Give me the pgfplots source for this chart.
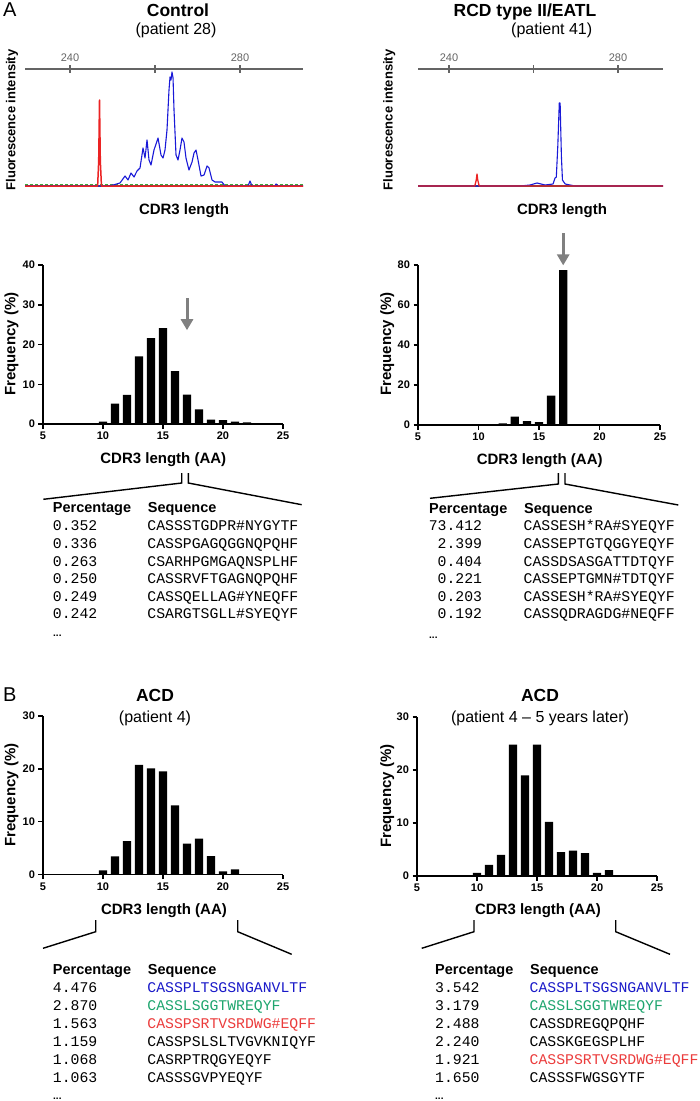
\documentclass[border=0pt]{standalone}
\usepackage{fontspec}
\setmainfont{Liberation Sans}
\newfontfamily\mono{Liberation Mono}
\usepackage{pgfplots}
\pgfplotsset{compat=1.18}
\usetikzlibrary{arrows.meta}
\definecolor{trblue}{RGB}{25,25,215}
\definecolor{trred}{RGB}{235,35,35}
\definecolor{trgreen}{RGB}{60,170,60}
\definecolor{seqblue}{RGB}{25,25,200}
\definecolor{seqgreen}{RGB}{30,165,110}
\definecolor{seqred}{RGB}{235,60,60}
\definecolor{axgray}{RGB}{100,100,100}
\definecolor{arrgray}{RGB}{128,128,128}
\newcommand\tf{\mono\fontsize{14.8}{17}\selectfont}
\newcommand\hf{\bfseries\fontsize{14.5}{17}\selectfont}
\newcommand\lf{\bfseries\fontsize{15}{18}\selectfont}
\pgfplotsset{
 barax/.style={anchor=south west, scale only axis, axis lines=left,
   axis line style={line width=1.8pt,-}, enlargelimits=false,
   xmin=5, xmax=25, xtick={5,10,...,25}, tick align=outside,
   major tick length=4.5pt, tick style={line width=1.5pt,black},
   ticklabel style={font=\bfseries\fontsize{11}{13}\selectfont},
   /pgf/number format/assume math mode=true,
   ybar, bar width=8.3pt, bar shift=0pt, clip=false, ymin=0},
 elax/.style={anchor=south west, scale only axis, axis x line=top, axis y line=none,
   enlargelimits=false, ymin=-4, ymax=117, height=121pt,
   xtick={240,260,280}, xticklabels={240,,280}, xtick align=center,
   major tick length=8pt, axis line style={line width=1.3pt,axgray,-},
   tick style={line width=1.2pt,axgray},
   ticklabel style={font=\fontsize{11}{13}\selectfont, text=axgray},
   /pgf/number format/assume math mode=true, clip=false}
}
\begin{document}
\begin{tikzpicture}
\useasboundingbox (0pt,0pt) rectangle (700pt,-1101pt);

% ---------- Electropherogram: Control ----------
\begin{axis}[elax, at={(25pt,-190pt)}, width=278pt, xmin=229.41, xmax=294.82]
\addplot[draw=black!65, line width=2.2pt] coordinates {(229.41,0)(294.82,0)};
\addplot[trgreen, line width=0.8pt, densely dashed] coordinates {(229.41,1.5)(294.82,1.5)};
\addplot[trblue, line width=1.1pt, line join=round] coordinates {
(229.41,0)(248.94,0)(250.12,1)(251.76,3)(252.94,10)(253.65,6)(254.35,13)(255.06,9)
(255.76,15)(256.47,18)(257.18,38)(257.65,28)(258.12,46)(258.59,26)(259.06,21)(259.76,36)
(260.71,48)(261.41,31)(261.88,28)(262.35,36)(262.82,56)(263.29,96)(263.53,109)(263.76,106)
(264.00,114)(264.24,108)(264.47,76)(264.94,31)(265.41,26)(265.88,36)(266.35,48)(266.82,44)
(267.29,28)(267.99,16)(268.71,24)(269.18,33)(269.65,36)(270.12,26)(270.82,10)(271.53,11)
(272.24,20)(272.71,18)(273.41,6)(274.12,4)(275.76,4)(276.47,0)(281.88,0)(282.35,5)
(282.82,0)(288.24,0)(288.47,2)(288.94,0)(294.82,0)};
\addplot[trred, line width=1.5pt, line join=round] coordinates {
(229.41,0)(246.5,0)(246.75,25)(246.94,86)(247.13,25)(247.4,0)(294.82,0)};
\end{axis}

% ---------- Electropherogram: RCD ----------
\begin{axis}[elax, at={(418pt,-190pt)}, width=245pt, xmin=232.66, xmax=290.65]
\addplot[draw=black!70, line width=1.6pt] coordinates {(232.66,0)(290.65,0)};
\addplot[trblue, line width=1.1pt, line join=round] coordinates {
(232.66,0)(256.80,0)(259.17,1)(260.83,3)(262.72,1)(264.62,2)(265.09,8)(265.4,9)
(265.75,40)(266.1,83)(266.3,83)(266.6,30)(266.85,6)(267.5,2)(269.82,0)(290.65,0)};
\addplot[trred, line width=1.3pt, line join=round] coordinates {
(232.66,0)(246.1,0)(246.45,6)(246.63,12)(246.8,6)(247.15,0)(290.65,0)};
\end{axis}

% ---------- Bars A left ----------
\begin{axis}[barax, at={(43pt,-424pt)}, width=240pt, height=159pt, ymax=40, ytick={0,10,20,30,40}]
\addplot[fill=black, draw=none] coordinates {(10,0.6)(11,5.1)(12,7.3)(13,17.0)(14,21.6)(15,24.1)(16,13.3)(17,7.4)(18,3.7)(19,1.1)(20,1.0)(21,0.6)(22,0.4)};
\draw[arrgray, line width=3pt, -{Triangle[length=11pt,width=12pt]}] (axis cs:17,31.7) -- (axis cs:17,23.6);
\end{axis}

% ---------- Bars A right ----------
\begin{axis}[barax, at={(418pt,-425pt)}, width=242pt, height=160pt, ymax=80, ytick={0,20,40,60,80}]
\addplot[fill=black, draw=none] coordinates {(11,0.5)(12,0.8)(13,4.2)(14,2.0)(15,1.5)(16,14.7)(17,77.5)(18,0.5)};
\draw[arrgray, line width=3pt, -{Triangle[length=11pt,width=12pt]}] (axis cs:17,96) -- (axis cs:17,79.8);
\end{axis}

% ---------- Bars B left ----------
\begin{axis}[barax, at={(43pt,-874.5pt)}, width=240pt, height=158.5pt, ymax=30, ytick={0,10,20,30}]
\addplot[fill=black, draw=none] coordinates {(10,0.8)(11,3.45)(12,6.3)(13,20.75)(14,20.1)(15,19.5)(16,13.1)(17,5.85)(18,6.8)(19,3.5)(20,0.6)(21,0.95)};
\end{axis}

% ---------- Bars B right ----------
\begin{axis}[barax, at={(417pt,-876pt)}, width=240pt, height=159pt, ymax=30, ytick={0,10,20,30}]
\addplot[fill=black, draw=none] coordinates {(10,0.6)(11,2.1)(12,4.0)(13,24.8)(14,19.0)(15,24.8)(16,10.2)(17,4.5)(18,4.8)(19,4.3)(20,0.6)(21,1.1)(23,0.15)};
\end{axis}

\begin{scope}[x=1pt,y=-1pt]
% panel letters and titles
\node[anchor=base west, inner sep=0, font=\fontsize{20}{24}\selectfont] at (3,16.7) {A};
\node[anchor=base west, inner sep=0, font=\fontsize{20}{24}\selectfont] at (3,701) {B};
\node[anchor=base, inner sep=0, font=\bfseries\fontsize{17.5}{20}\selectfont] at (178,16) {Control};
\node[anchor=base, inner sep=0, font=\fontsize{16}{19}\selectfont] at (176,34.5) {(patient 28)};
\node[anchor=base, inner sep=0, font=\bfseries\fontsize{17.5}{20}\selectfont] at (525,16) {RCD type II/EATL};
\node[anchor=base, inner sep=0, font=\fontsize{16}{19}\selectfont] at (551.7,34.5) {(patient 41)};
\node[anchor=base, inner sep=0, font=\bfseries\fontsize{17.5}{20}\selectfont] at (155,701) {ACD};
\node[anchor=base, inner sep=0, font=\fontsize{16}{19}\selectfont] at (155,722) {(patient 4)};
\node[anchor=base, inner sep=0, font=\bfseries\fontsize{17.5}{20}\selectfont] at (540,701) {ACD};
\node[anchor=base, inner sep=0, font=\fontsize{16}{19}\selectfont] at (540,722) {(patient 4 – 5 years later)};

% electropherogram labels
\node[anchor=base, inner sep=0, rotate=90, font=\bfseries\fontsize{13}{15}\selectfont] at (15.5,120) {Fluorescence intensity};
\node[anchor=base, inner sep=0, rotate=90, font=\bfseries\fontsize{13}{15}\selectfont] at (392.5,120) {Fluorescence intensity};
\node[anchor=base, inner sep=0, font=\lf] at (184,214) {CDR3 length};
\node[anchor=base, inner sep=0, font=\lf] at (562,214) {CDR3 length};

% bar chart labels
\node[anchor=base, inner sep=0, rotate=90, font=\lf] at (15.5,344) {Frequency (\%)};
\node[anchor=base, inner sep=0, rotate=90, font=\lf] at (391,344) {Frequency (\%)};
\node[anchor=base, inner sep=0, rotate=90, font=\lf] at (15.5,795) {Frequency (\%)};
\node[anchor=base, inner sep=0, rotate=90, font=\lf] at (391,796) {Frequency (\%)};
\node[anchor=base, inner sep=0, font=\lf] at (163.3,463.3) {CDR3 length (AA)};
\node[anchor=base, inner sep=0, font=\lf] at (539.7,464.3) {CDR3 length (AA)};
\node[anchor=base, inner sep=0, font=\lf] at (164,914) {CDR3 length (AA)};
\node[anchor=base, inner sep=0, font=\lf] at (538,914) {CDR3 length (AA)};

% brackets
\begin{scope}[line width=1.4pt]
\draw (181.7,473) -- (181.7,483) -- (43.3,499.3);
\draw (188.3,473) -- (188.3,483) -- (301.7,504.7);
\draw (558.3,473) -- (558.3,484) -- (430,498.3);
\draw (565,473) -- (565,484) -- (678.3,505);
\draw (95.7,920) -- (95.7,931.7) -- (43,948.3);
\draw (237.7,920) -- (237.7,931.7) -- (291.7,954.3);
\draw (474,920) -- (474,931.7) -- (421.7,948.3);
\draw (615.7,920) -- (615.7,931.7) -- (670,954.3);
\end{scope}

% ---------- Table A left ----------
\begin{scope}[every node/.style={anchor=base west, inner sep=0}]
\node[font=\hf] at (52.7,512) {Percentage};
\node[font=\hf] at (147.7,512) {Sequence};
\node[font=\tf] at (52.7,530) {0.352};   \node[font=\tf] at (147.2,530) {CASSSTGDPR\#NYGYTF};
\node[font=\tf] at (52.7,548) {0.336};   \node[font=\tf] at (147.2,548) {CASSPGAGQGGNQPQHF};
\node[font=\tf] at (52.7,566) {0.263};   \node[font=\tf] at (147.2,566) {CSARHPGMGAQNSPLHF};
\node[font=\tf] at (52.7,583.5) {0.250}; \node[font=\tf] at (147.2,583.5) {CASSRVFTGAGNQPQHF};
\node[font=\tf] at (52.7,601) {0.249};   \node[font=\tf] at (147.2,601) {CASSQELLAG\#YNEQFF};
\node[font=\tf] at (52.7,618.5) {0.242}; \node[font=\tf] at (147.2,618.5) {CSARGTSGLL\#SYEQYF};
\node[font=\bfseries\fontsize{10}{12}\selectfont] at (53,636.5) {...};

% ---------- Table A right ----------
\node[font=\hf] at (429,513) {Percentage};
\node[font=\hf] at (524,513) {Sequence};
\node[font=\tf, anchor=base east] at (482.3,530) {73.412};  \node[font=\tf] at (523.5,530) {CASSESH*RA\#SYEQYF};
\node[font=\tf, anchor=base east] at (482.3,548) {2.399};   \node[font=\tf] at (523.5,548) {CASSEPTGTQGGYEQYF};
\node[font=\tf, anchor=base east] at (482.3,566) {0.404};   \node[font=\tf] at (523.5,566) {CASSDSASGATTDTQYF};
\node[font=\tf, anchor=base east] at (482.3,583.5) {0.221}; \node[font=\tf] at (523.5,583.5) {CASSEPTGMN\#TDTQYF};
\node[font=\tf, anchor=base east] at (482.3,601) {0.203};   \node[font=\tf] at (523.5,601) {CASSESH*RA\#SYEQYF};
\node[font=\tf, anchor=base east] at (482.3,618.5) {0.192}; \node[font=\tf] at (523.5,618.5) {CASSQDRAGDG\#NEQFF};
\node[font=\bfseries\fontsize{10}{12}\selectfont] at (429,638) {...};

% ---------- Table B left ----------
\node[font=\hf] at (52.7,974.3) {Percentage};
\node[font=\hf] at (147.7,974.3) {Sequence};
\node[font=\tf] at (52.7,992.5) {4.476};  \node[font=\tf, text=seqblue] at (147.2,992.5) {CASSPLTSGSNGANVLTF};
\node[font=\tf] at (52.7,1010.5) {2.870}; \node[font=\tf, text=seqgreen] at (147.2,1010.5) {CASSLSGGTWREQYF};
\node[font=\tf] at (52.7,1028.3) {1.563}; \node[font=\tf, text=seqred] at (147.2,1028.3) {CASSPSRTVSRDWG\#EQFF};
\node[font=\tf] at (52.7,1046.5) {1.159}; \node[font=\tf] at (147.2,1046.5) {CASSPSLSLTVGVKNIQYF};
\node[font=\tf] at (52.7,1064.3) {1.068}; \node[font=\tf] at (147.2,1064.3) {CASRPTRQGYEQYF};
\node[font=\tf] at (52.7,1082.3) {1.063}; \node[font=\tf] at (147.2,1082.3) {CASSSGVPYEQYF};
\node[font=\bfseries\fontsize{10}{12}\selectfont] at (53,1099.5) {...};

% ---------- Table B right ----------
\node[font=\hf] at (435,974.3) {Percentage};
\node[font=\hf] at (530,974.3) {Sequence};
\node[font=\tf] at (435,992.5) {3.542};  \node[font=\tf, text=seqblue] at (529.5,992.5) {CASSPLTSGSNGANVLTF};
\node[font=\tf] at (435,1010.5) {3.179}; \node[font=\tf, text=seqgreen] at (529.5,1010.5) {CASSLSGGTWREQYF};
\node[font=\tf] at (435,1028.3) {2.488}; \node[font=\tf] at (529.5,1028.3) {CASSDREGQPQHF};
\node[font=\tf] at (435,1046.5) {2.240}; \node[font=\tf] at (529.5,1046.5) {CASSKGEGSPLHF};
\node[font=\tf] at (435,1064.3) {1.921}; \node[font=\tf, text=seqred] at (529.5,1064.3) {CASSPSRTVSRDWG\#EQFF};
\node[font=\tf] at (435,1082.3) {1.650}; \node[font=\tf] at (529.5,1082.3) {CASSSFWGSGYTF};
\node[font=\bfseries\fontsize{10}{12}\selectfont] at (435,1099.5) {...};
\end{scope}
\end{scope}
\end{tikzpicture}
\end{document}
